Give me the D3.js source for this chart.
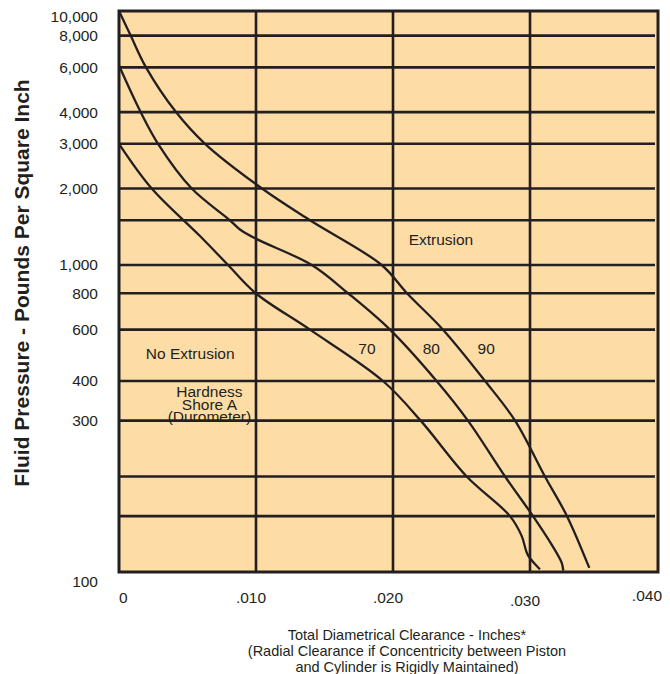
<!DOCTYPE html>
<html lang="en">
<head>
<meta charset="UTF-8">
<script src="https://d3js.org/d3.v7.min.js"></script>
<title>Extrusion limits</title>
<style>
    body { margin: 0; background: #fff; }
    svg { display: block; font-family: "Liberation Sans", Arial, sans-serif; }
</style>
</head>
<body>
<script>

    // clearance read in thousandths of an inch, pressure in psi
    var clearance70 = [0, 2.39, 5.91, 7.96, 9.98, 13.94, 19.27, 22.02, 25.38, 28.54, 29.39, 29.85, 30.73];
    var pressure70  = [3000, 2000, 1300, 1000, 800, 600, 400, 300, 200, 150, 130, 113, 102];

    var clearance80 = [0, 1.58, 2.85, 5.31, 8.1, 8.83, 9.98, 14.07, 16.72, 19.78, 23.18, 25.47, 28.18, 30.22, 31.58, 32.31, 32.43];
    var pressure80  = [6100, 4000, 3000, 2000, 1500, 1380, 1270, 1000, 800, 600, 400, 300, 200, 150, 122, 107, 101];

    var clearance90 = [0, 0.85, 1.97, 4.16, 6.28, 10.44, 13.94, 19.17, 21.02, 23.65, 26.72, 28.91, 31.09, 32.7, 34.33];
    var pressure90  = [10000, 8000, 6000, 4000, 3000, 2000, 1500, 1000, 800, 600, 400, 300, 200, 150, 103];

    var yLabelValues = [10000, 8000, 6000, 4000, 3000, 2000, 1000, 800, 600, 400, 300, 100];
    var yGridValues = [8000, 6000, 4000, 3000, 2000, 1500, 1000, 800, 600, 400, 300, 200, 150];
    var xTickValues = [0, 0.01, 0.02, 0.03, 0.04];
    var xTickLabels = ["0", ".010", ".020", ".030", ".040"];

    var width = 670, height = 674;
    var plotLeft = 119, plotTop = 11, plotRight = 658, plotBottom = 572;
    var ink = "#231f20";

    var svg = d3.select("body")
        .append("svg")
        .attr("width", width)
        .attr("height", height);

    // the printed chart is not quite even, so x runs a bit past the frame
    var xScale = d3.scaleLinear()
        .domain([0, 0.04])
        .range([plotLeft, 667]);

    // log scale, the two decades are drawn with different heights
    var yScale = d3.scaleLog()
        .domain([100, 400, 1000, 10000])
        .range([plotBottom, 381, 265, plotTop]);

    svg.append("rect")
        .attr("x", plotLeft)
        .attr("y", plotTop)
        .attr("width", plotRight - plotLeft)
        .attr("height", plotBottom - plotTop)
        .attr("fill", "#fddca5");

    // grid
    svg.selectAll(".hgrid")
        .data(yGridValues)
        .enter()
        .append("line")
        .attr("class", "hgrid")
        .attr("x1", plotLeft)
        .attr("x2", plotRight - 3)
        .attr("y1", function(d) {return yScale(d)})
        .attr("y2", function(d) {return yScale(d)})
        .attr("stroke", ink)
        .attr("stroke-width", 2.6);

    svg.selectAll(".vgrid")
        .data(xTickValues.slice(1, 4))
        .enter()
        .append("line")
        .attr("class", "vgrid")
        .attr("x1", function(d) {return xScale(d)})
        .attr("x2", function(d) {return xScale(d)})
        .attr("y1", plotTop)
        .attr("y2", plotBottom)
        .attr("stroke", ink)
        .attr("stroke-width", 2.6);

    svg.append("rect")
        .attr("x", plotLeft)
        .attr("y", plotTop)
        .attr("width", plotRight - plotLeft)
        .attr("height", plotBottom - plotTop)
        .attr("fill", "none")
        .attr("stroke", ink)
        .attr("stroke-width", 3);

    // curves
    var curves = [
        {name: "70", c: clearance70, p: pressure70},
        {name: "80", c: clearance80, p: pressure80},
        {name: "90", c: clearance90, p: pressure90}
    ];

    var line = d3.line()
        .x(function(d) {return xScale(d[0] / 1000)})
        .y(function(d) {return yScale(d[1])})
        .curve(d3.curveCatmullRom.alpha(0.5));

    svg.selectAll(".curve")
        .data(curves)
        .enter()
        .append("path")
        .attr("class", "curve")
        .attr("d", function(d) {return line(d3.zip(d.c, d.p))})
        .attr("fill", "none")
        .attr("stroke", ink)
        .attr("stroke-width", 2.3);

    // y labels
    svg.selectAll(".ylabel")
        .data(yLabelValues)
        .enter()
        .append("text")
        .attr("class", "ylabel")
        .attr("x", 98)
        .attr("y", function(d) {
            var shift = d == 10000 ? 6 : (d == 100 ? 10 : 0);
            return yScale(d) + shift;
        })
        .attr("dy", "0.35em")
        .attr("text-anchor", "end")
        .attr("font-size", 15.5)
        .attr("fill", ink)
        .text(d3.format(","));

    // x labels
    svg.selectAll(".xlabel")
        .data(xTickValues)
        .enter()
        .append("text")
        .attr("class", "xlabel")
        .attr("x", function(d, i) {
            if (i == 0) return xScale(d);
            if (i == 4) return plotRight + 4;
            return xScale(d) - 5;
        })
        .attr("y", function(d, i) {return i == 3 ? 606 : (i == 4 ? 601 : 603)})
        .attr("text-anchor", function(d, i) {return i == 0 ? "start" : (i == 4 ? "end" : "middle")})
        .attr("font-size", 15.5)
        .attr("fill", ink)
        .text(function(d, i) {return xTickLabels[i]});

    // axis titles
    svg.append("text")
        .attr("transform", "translate(29,283) rotate(-90)")
        .attr("text-anchor", "middle")
        .attr("font-size", 21)
        .attr("font-weight", "bold")
        .attr("fill", ink)
        .text("Fluid Pressure - Pounds Per Square Inch");

    var xTitle = ["Total Diametrical Clearance - Inches*",
                  "(Radial Clearance if Concentricity between Piston",
                  "and Cylinder is Rigidly Maintained)"];

    svg.selectAll(".xtitle")
        .data(xTitle)
        .enter()
        .append("text")
        .attr("class", "xtitle")
        .attr("x", 407)
        .attr("y", function(d, i) {return 640 + i * 16})
        .attr("text-anchor", "middle")
        .attr("font-size", 14.5)
        .attr("fill", ink)
        .text(function(d) {return d});

    // notes inside the chart, placed in data units
    var notes = [
        {t: "Extrusion", cx: 0.0235, p: 1260},
        {t: "No Extrusion", cx: 0.0052, p: 495},
        {t: "70", cx: 0.0181, p: 518},
        {t: "80", cx: 0.0228, p: 518},
        {t: "90", cx: 0.0268, p: 518},
        {t: "Hardness", cx: 0.0066, p: 371},
        {t: "Shore A", cx: 0.0066, p: 337},
        {t: "(Durometer)", cx: 0.0066, p: 310}
    ];

    svg.selectAll(".note")
        .data(notes)
        .enter()
        .append("text")
        .attr("class", "note")
        .attr("x", function(d) {return xScale(d.cx)})
        .attr("y", function(d) {return yScale(d.p)})
        .attr("dy", "0.35em")
        .attr("text-anchor", "middle")
        .attr("font-size", 15.5)
        .attr("fill", ink)
        .text(function(d) {return d.t});

</script>
</body>
</html>
